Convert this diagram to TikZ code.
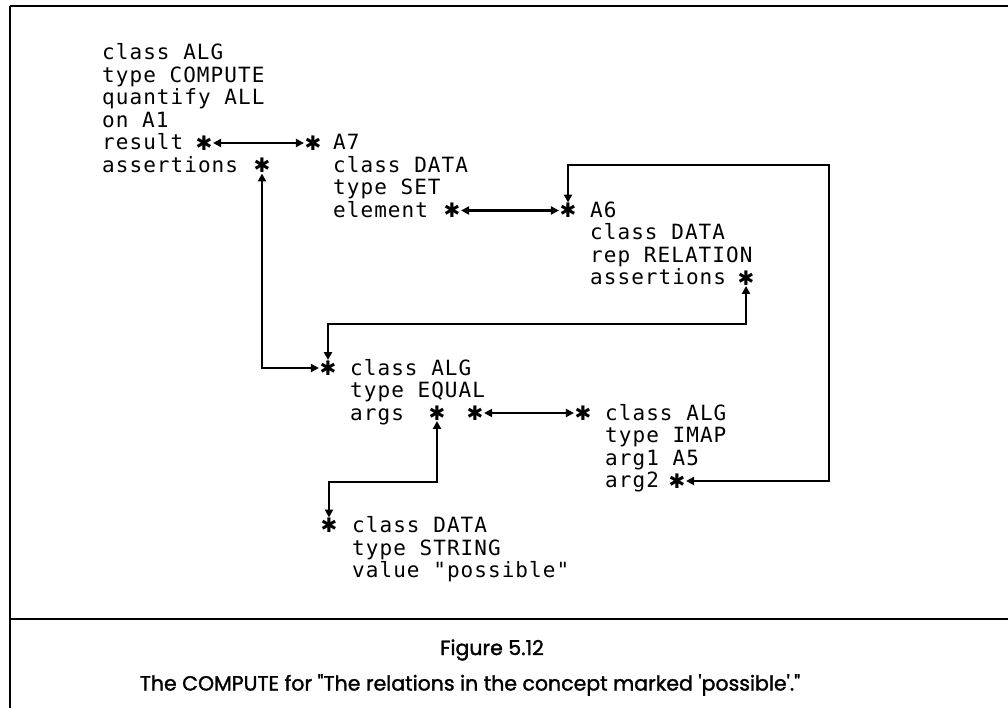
\documentclass[tikz,border=0pt]{standalone}
\usepackage{fontspec}
\usetikzlibrary{arrows.meta}
\newfontfamily\monof[LetterSpace=5]{DejaVu Sans Mono}
\newfontfamily\starf{DejaVu Sans}
\newfontfamily\capf[FakeBold=1.5]{Poppins}
\tikzset{
  blk/.style={anchor=base west, inner sep=0pt, align=left, font=\monof\fontsize{21}{22.5}\selectfont},
  st/.style={inner sep=0.5pt, font=\starf\fontsize{20}{20}\selectfont},
  lnk/.style={line width=2.4pt, {Triangle[length=8pt,width=8pt]}-{Triangle[length=8pt,width=8pt]}},
  frm/.style={line width=2.8pt},
  captext/.style={inner sep=0pt, font=\capf\fontsize{20.5}{22}\selectfont}
}
\begin{document}
\begin{tikzpicture}[x=1pt,y=-1pt]
\useasboundingbox (0,0) rectangle (1008,708);
% frame
\draw[frm] (10,6) -- (1008,6);
\draw[frm] (10,6) -- (10,708);
\draw[frm] (10,619) -- (1008,619);
% text blocks (anchor = baseline of last line)
\node[blk] (b1) at (102,172.5) {class ALG\\type COMPUTE\\quantify ALL\\on A1\\result\\assertions};
\node[blk] (b2) at (333,217.5) {A7\\class DATA\\type SET\\element};
\node[blk] (b3) at (590,285) {A6\\class DATA\\rep RELATION\\assertions};
\node[blk] (b4) at (350,420) {class ALG\\type EQUAL\\args};
\node[blk] (b5) at (605,487.5) {class ALG\\type IMAP\\arg1 A5\\arg2};
\node[blk] (b6) at (352,577.5) {class DATA\\type STRING\\value "possible"};
% stars
\node[st] (sres) at (204,143) {✱};
\node[st] (sass) at (262,165.5) {✱};
\node[st] (sa7) at (313,143) {✱};
\node[st] (sel) at (452,210.5) {✱};
\node[st] (sa6) at (568,210.5) {✱};
\node[st] (sa6a) at (746,278) {✱};
\node[st] (seq) at (328,368) {✱};
\node[st] (sarg1) at (437,413) {✱};
\node[st] (sarg2) at (475,413) {✱};
\node[st] (simap) at (583,413) {✱};
\node[st] (sa2) at (677,481) {✱};
\node[st] (sstr) at (329,525.5) {✱};
% route coordinates
\coordinate (ytop) at (0,165);
\coordinate (xr) at (829,0);
\coordinate (ymid) at (0,324);
\coordinate (ylow) at (0,482);
% connectors
\draw[lnk] (sres) -- (sa7);
\draw[lnk] (sel) -- (sa6);
\draw[lnk] (sarg2) -- (simap);
\draw[lnk] (sass.south) |- (seq.west);
\draw[lnk] (sa6a.south) -- (sa6a |- ymid) -- (seq |- ymid) -- (seq.north);
\draw[lnk] (sa2.east) -- (xr |- sa2) -- (xr |- ytop) -- (sa6 |- ytop) -- (sa6.north);
\draw[lnk] (sarg1.south) -- (sarg1 |- ylow) -- (sstr |- ylow) -- (sstr.north);
% caption
\node[captext] (fig) at (492,650) {Figure 5.12};
\node[captext] (capt) at (470,685) {The COMPUTE for "The relations in the concept marked 'possible'."};
\end{tikzpicture}
\end{document}
